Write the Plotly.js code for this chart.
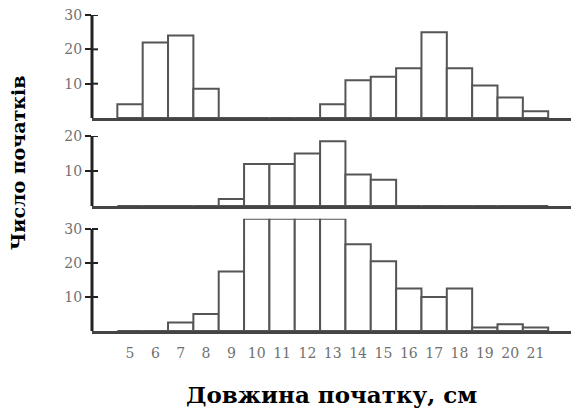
<!DOCTYPE html>
<html>
<head>
<meta charset="utf-8">
<script src="https://cdn.plot.ly/plotly-3.0.1.min.js"></script>
<style>html,body{margin:0;padding:0;background:#fff;}#chart{width:571px;height:409px;}</style>
</head>
<body>
<div id="chart"></div>
<script>
// Data
var bins = [5, 6, 7, 8, 9, 10, 11, 12, 13, 14, 15, 16, 17, 18, 19, 20, 21];
var topCounts = [4, 22, 24, 8.5, 0, 0, 0, 0, 4, 11, 12, 14.5, 25, 14.5, 9.5, 6, 2];
var midCounts = [0, 0, 0, 0, 2, 12, 12, 15, 18.5, 9, 7.5, 0, 0, 0, 0, 0, 0];
var bottomCounts = [0, 0, 2.5, 5, 17.5, 33, 33, 33, 33, 25.5, 20.5, 12.5, 10, 12.5, 1, 2, 1];
var xTickLabels = ["5","6","7","8","9","10","11","12","13","14","15","16","17","18","19","20","21"];
var topTicks = [10, 20, 30];
var midTicks = [10, 20];
var bottomTicks = [10, 20, 30];
var xTitle = "Довжина початку, см";
var yTitle = "Число початків";

var barStyle = {color: "#ffffff", line: {color: "#555555", width: 2}};
function barTrace(vals, xa, ya) {
  return {type: "bar", x: bins, y: vals, xaxis: xa, yaxis: ya, width: 1,
          marker: barStyle, hoverinfo: "x+y", showlegend: false};
}
var data = [
  barTrace(topCounts, "x", "y"),
  barTrace(midCounts, "x2", "y2"),
  barTrace(bottomCounts, "x3", "y3")
];

var H = 409;
function fr(px) { return 1 - px / H; }
var xRange = [3.5, 22.4];
var tickFont = {family: "DejaVu Serif", size: 14, color: "#707070"};

function xAxis(anchor, showLabels) {
  return {anchor: anchor, domain: [0, 1], range: xRange, showgrid: false, zeroline: false,
          showline: true, linecolor: "#444444", linewidth: 2.5,
          tickvals: bins, ticktext: xTickLabels, showticklabels: showLabels, ticks: "",
          ticklabelstandoff: 8, tickfont: tickFont, fixedrange: true};
}
function yAxis(anchor, domain, range, ticks) {
  return {anchor: anchor, domain: domain, range: range, showgrid: false, zeroline: false,
          showline: false, tickvals: ticks, ticks: "outside", ticklen: 6, tickwidth: 2,
          tickcolor: "#222222", tickfont: tickFont, fixedrange: true};
}

var shapes = [];
function axisDecor(yref, top, ticks) {
  shapes.push({type: "line", xref: "paper", yref: yref, x0: 0, x1: 0, y0: 0, y1: top,
               line: {color: "#222222", width: 3}});
  ticks.forEach(function (t) {
    shapes.push({type: "line", xref: "paper", xsizemode: "pixel", xanchor: 0, x0: 0, x1: 6,
                 yref: yref, y0: t, y1: t, line: {color: "#222222", width: 2}});
  });
}
axisDecor("y", 30, topTicks);
axisDecor("y2", 20, midTicks);
axisDecor("y3", 30, bottomTicks);

var layout = {
  width: 571, height: 409,
  margin: {l: 92, r: 0, t: 0, b: 0},
  paper_bgcolor: "#ffffff", plot_bgcolor: "#ffffff",
  bargap: 0,
  xaxis: xAxis("y", false),
  xaxis2: xAxis("y2", false),
  xaxis3: xAxis("y3", true),
  yaxis: yAxis("x", [fr(118), fr(15)], [0, 30], topTicks),
  yaxis2: yAxis("x2", [fr(206), fr(136)], [0, 20], midTicks),
  yaxis3: yAxis("x3", [fr(331), fr(218.8)], [0, 33], bottomTicks),
  shapes: shapes,
  annotations: [
    {text: "<b>" + xTitle + "</b>", xref: "paper", yref: "paper", x: (331 - 92) / 479, y: fr(394),
     xanchor: "center", yanchor: "middle", showarrow: false,
     font: {family: "DejaVu Serif", size: 23, color: "#000000"}},
    {text: "<b>" + yTitle + "</b>", xref: "paper", yref: "paper", x: (18 - 92) / 479, y: fr(163),
     xanchor: "center", yanchor: "middle", showarrow: false, textangle: -90,
     font: {family: "DejaVu Serif", size: 19, color: "#000000"}}
  ]
};

Plotly.newPlot("chart", data, layout, {displayModeBar: false, staticPlot: true});
</script>
</body>
</html>
